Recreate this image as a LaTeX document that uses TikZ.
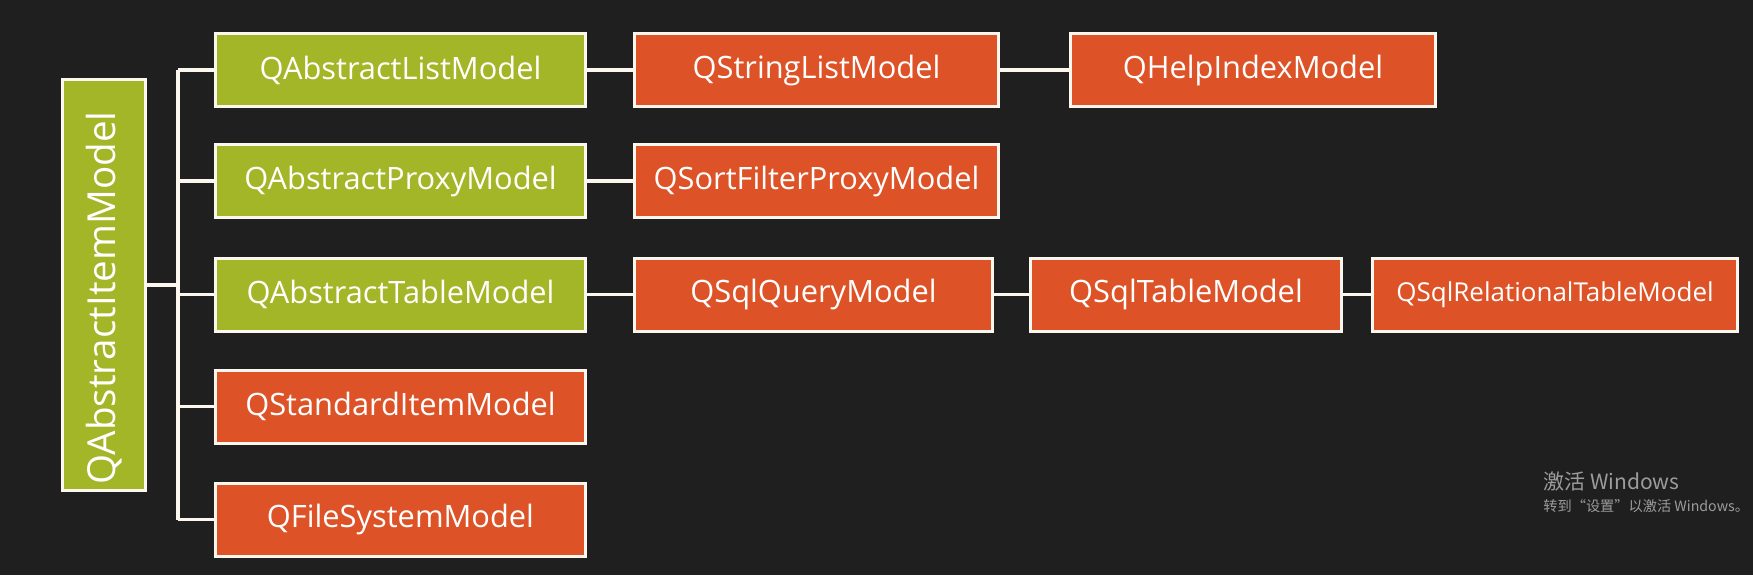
\documentclass[tikz,border=0pt]{standalone}
\usepackage{fontspec}
\usepackage{xcolor}
\usepackage{tikz}
\usetikzlibrary{positioning}
\usetikzlibrary{calc}
\newfontfamily\boxfont{Open Sans}
\newfontfamily\cjkfont{Noto Sans CJK SC}
\definecolor{bgdark}{HTML}{1F1F1F}
\definecolor{qtgreen}{HTML}{A3B627}
\definecolor{qtorange}{HTML}{DD5327}
\definecolor{boxline}{HTML}{FBF7EE}
\definecolor{wmgray}{HTML}{9C9C9C}
\tikzset{
  basebox/.style = {draw=boxline, line width=1.5pt, text=white, inner sep=0pt,
    align=center, minimum height=36.5pt,
    font=\boxfont\fontsize{15.4}{18}\selectfont},
  greenbox/.style = {basebox, fill=qtgreen, minimum width=185pt},% classe abstraite
  orangebox/.style = {basebox, fill=qtorange, minimum width=182pt},% classe concrete
  link/.style = {draw=boxline, line width=1.7pt},
  watermark/.style = {anchor=west, inner sep=0pt, text=wmgray}
}

\begin{document}
\begin{tikzpicture}[x=0.5pt,y=-0.5pt]
\fill[bgdark] (0,0) rectangle (1753,575);
\useasboundingbox (0,0) rectangle (1753,575);
\node [greenbox, rotate=90, minimum width=205.5pt, minimum height=41.5pt,
  font=\boxfont\fontsize{19.3}{22}\selectfont] (root) at (104,285) {QAbstractItemModel\hspace{13pt}};
\coordinate (trunk) at (178,0);
% premiere colonne
\node [greenbox] (list) at (400.5,70) {QAbstractListModel};
\node [greenbox] (proxy) at (400.5,181) {QAbstractProxyModel};
\node [greenbox] (table) at (400.5,294.5) {QAbstractTableModel};
\node [orangebox, minimum width=185pt] (stditem) at (400.5,406.5) {QStandardItemModel};
\node [orangebox, minimum width=185pt] (fsys) at (400.5,519.5) {QFileSystemModel};
% deuxieme colonne
\node [orangebox] (strlist) at (816.5,70) {QStringListModel};
\node [orangebox] (sortfilter) at (816.5,181) {QSortFilterProxyModel};
\node [orangebox, minimum width=179pt] (sqlquery) at (813.5,294.5) {QSqlQueryModel};
% troisieme colonne
\node [orangebox, minimum width=182.5pt] (helpindex) at (1253,70) {QHelpIndexModel};
\node [orangebox, minimum width=155.5pt] (sqltable) at (1186,294.5) {QSqlTableModel};
\node [orangebox, minimum width=182.5pt,
  font=\boxfont\fontsize{13}{16}\selectfont] (sqlrel) at (1555,294.5) {QSqlRelationalTableModel};
% liens
\draw [link] (root.south) -- (root.south -| trunk);
\draw [link] (list.west -| trunk) -- (fsys.west -| trunk);
\foreach \n in {list,proxy,table,stditem,fsys}
  \draw [link] (\n.west -| trunk) -- (\n.west);
\draw [link] (list) -- (strlist);
\draw [link] (strlist) -- (helpindex);
\draw [link] (proxy) -- (sortfilter);
\draw [link] (table) -- (sqlquery);
\draw [link] (sqlquery) -- (sqltable);
\draw [link] (sqltable) -- (sqlrel);
% filigrane
\node [watermark, font=\cjkfont\fontsize{10.5}{12}\selectfont] (wmone) at (1543,482) {激活 Windows};
\node [watermark, font=\cjkfont\fontsize{7.1}{9}\selectfont] (wmtwo) at (1543,506) {转到“设置”以激活 Windows。};
\end{tikzpicture}
\end{document}
